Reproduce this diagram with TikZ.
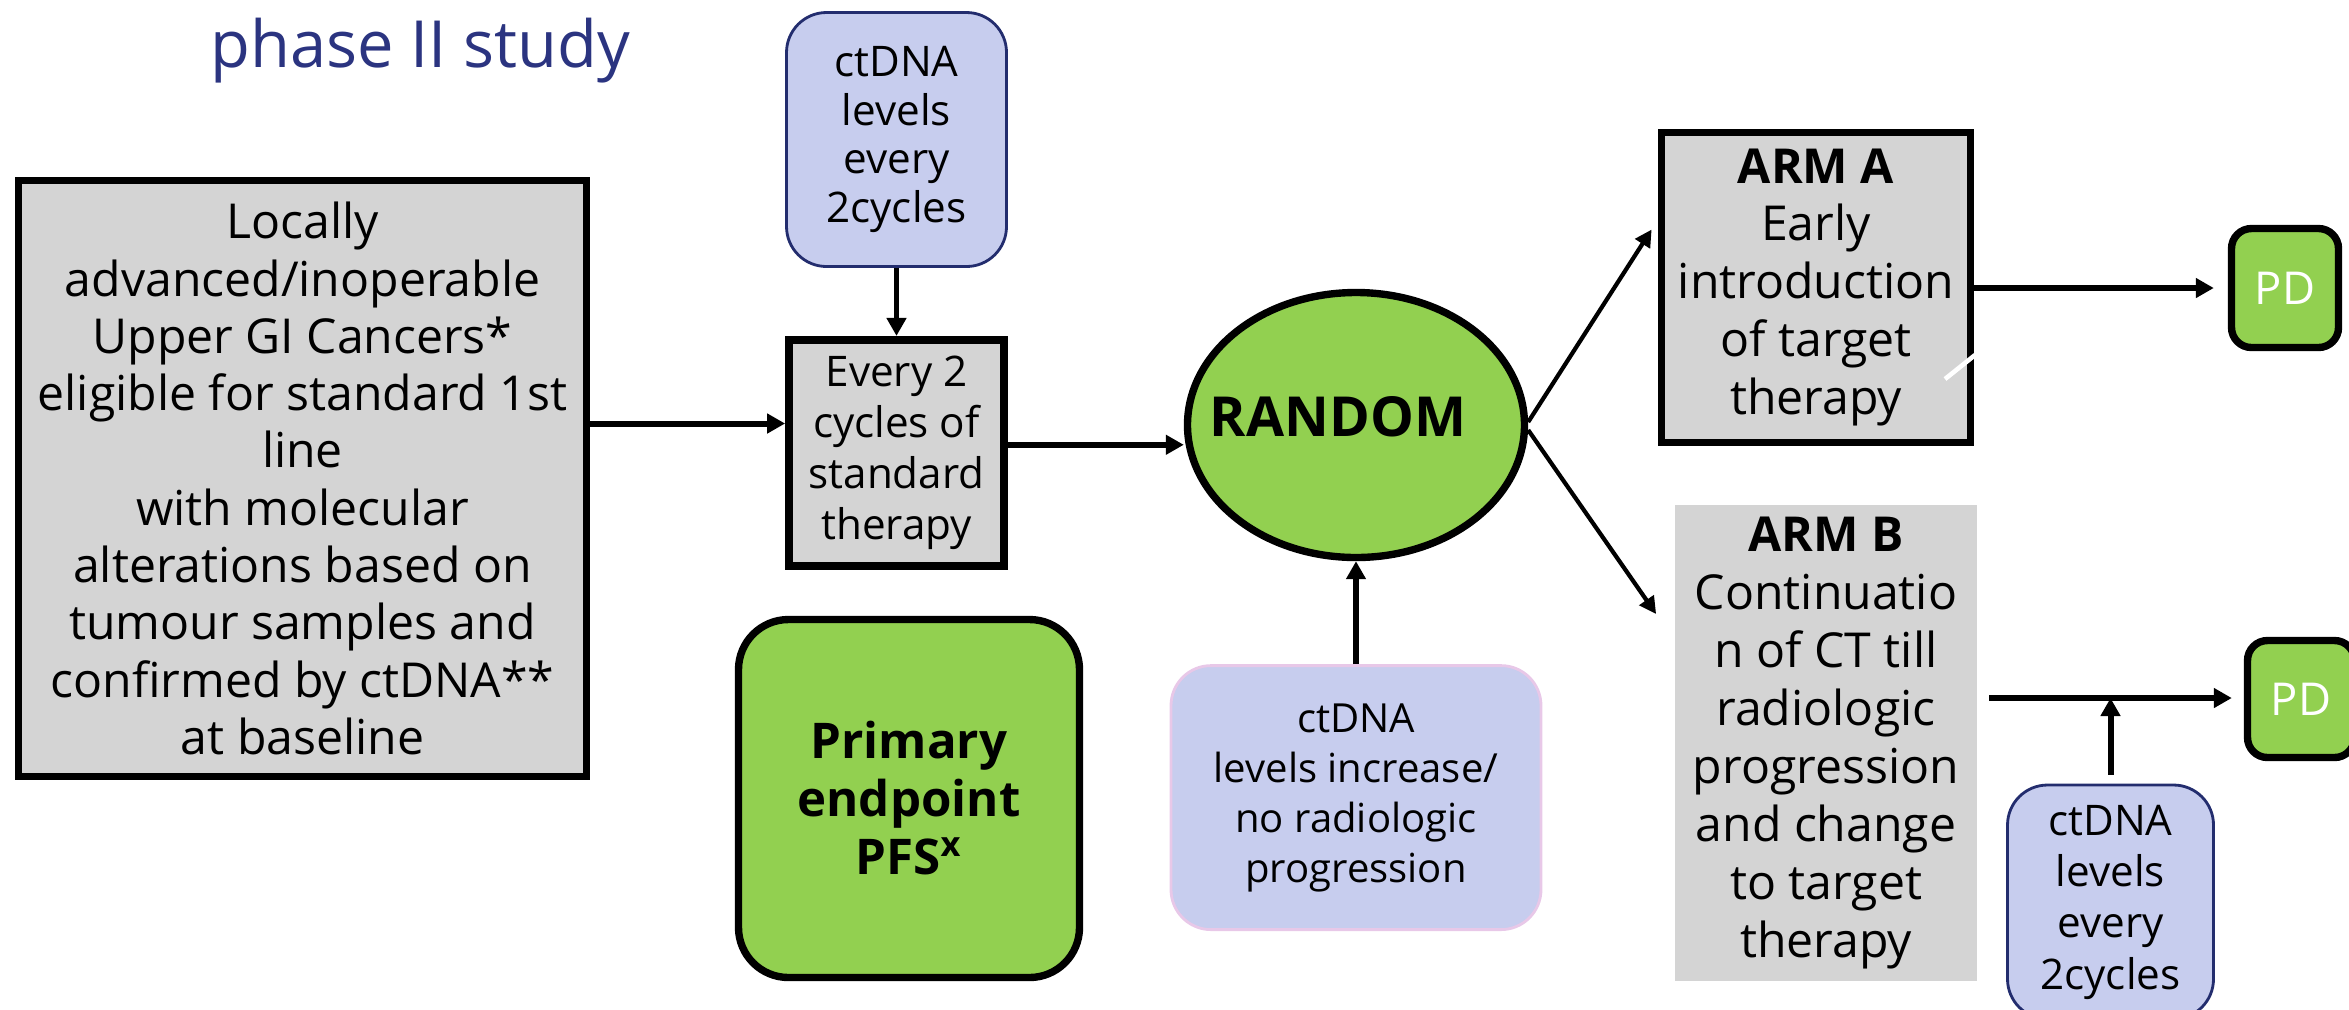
\documentclass[tikz,border=0pt]{standalone}
\usepackage{fontspec}
\setmainfont{Open Sans}
\usepackage{xcolor}
\usepackage{tikz}
\usetikzlibrary{arrows.meta, positioning, shapes.geometric}
\definecolor{boxgrey}{RGB}{212,212,212}
\definecolor{dnafill}{RGB}{199,205,238}
\definecolor{dnaline}{RGB}{35,45,110}
\definecolor{dnapink}{RGB}{232,200,232}
\definecolor{trialgreen}{RGB}{146,208,80}
\definecolor{titleblue}{RGB}{43,52,128}

\tikzset{
  greybox/.style={draw, line width=2.2pt, fill=boxgrey, inner sep=0pt, align=center},
  dnabox/.style={draw=dnaline, line width=0.8pt, fill=dnafill, rounded corners=0.4cm, inner sep=0pt, align=center},
  greenbox/.style={draw, line width=2.1pt, fill=trialgreen, inner sep=0pt, align=center},
  arr/.style={-{Triangle[length=1.8mm, width=1.9mm]}, line width=1.7pt},
  thinarr/.style={-{Triangle[length=1.7mm, width=1.7mm]}, line width=1.2pt}
}

\begin{document}
\begin{tikzpicture}
            \useasboundingbox (0,0) rectangle (23.49,-10.09);

            \node (title) [anchor=base west, text=titleblue, font=\fontsize{18.5}{22}\selectfont] at (1.98,-0.67) {phase II study};

            \node (inclusion) [greybox, minimum width=5.68cm, minimum height=5.96cm, font=\fontsize{13.7}{16.3}\selectfont] at (3.025,-4.785) {Locally\\ advanced/inoperable\\ Upper GI Cancers*\\ eligible for standard 1st\\ line\\ with molecular\\ alterations based on\\ tumour samples and\\ confirmed by ctDNA**\\ at baseline};

            \node (topdna) [dnabox, minimum width=2.2cm, minimum height=2.54cm, font=\fontsize{12}{13.9}\selectfont] at (8.965,-1.395) {ctDNA\\ levels\\ every\\ 2cycles};
            \node (every2) [greybox, minimum width=2.15cm, minimum height=2.26cm, font=\fontsize{12}{14.5}\selectfont, below=0.68cm of topdna] {Every 2\\ cycles of\\ standard\\ therapy};

            \node (random) [ellipse, greenbox, minimum width=3.37cm, minimum height=2.65cm] at (13.56,-4.25) {};
            \node (randomlabel) [font=\bfseries\fontsize{15.7}{18}\selectfont] at ([xshift=-0.18cm, yshift=0.08cm]random.center) {RANDOM};

            \node (primary) [greenbox, rounded corners=0.5cm, minimum width=3.41cm, minimum height=3.58cm, font=\bfseries\fontsize{14}{16.5}\selectfont] at (9.09,-7.985) {Primary\\ endpoint\\ PFS\textsuperscript{x}};
            \node (dnamid) [dnabox, draw=dnapink, minimum width=3.7cm, minimum height=2.64cm, font=\fontsize{11.4}{14.2}\selectfont, below=1.03cm of random] {ctDNA\\ levels increase/\\ no radiologic\\ progression};

            \node (armA) [greybox, minimum width=3.09cm, minimum height=3.1cm, font=\fontsize{13.7}{16.5}\selectfont] at (18.16,-2.875) {\textbf{ARM A}\\ Early\\ introduction\\ of target\\ therapy};
            \node (armB) [greybox, draw=none, minimum width=3.02cm, minimum height=4.76cm, font=\fontsize{13.7}{16.5}\selectfont] at (18.26,-7.43) {\textbf{ARM B}\\ Continuatio\\ n of CT till\\ radiologic\\ progression\\ and change\\ to target\\ therapy};

            \node (pdA) [greenbox, rounded corners=0.2cm, minimum width=1.07cm, minimum height=1.19cm, text=white, font=\fontsize{12.9}{15}\selectfont] at (22.85,-2.88) {PD};
            \node (pdB) [greenbox, rounded corners=0.2cm, minimum width=1.07cm, minimum height=1.17cm, text=white, font=\fontsize{12.9}{15}\selectfont] at (23.01,-6.99) {PD};
            \node (dnaB) [dnabox, minimum width=2.06cm, minimum height=2.34cm, font=\fontsize{12}{14.6}\selectfont] at (21.105,-9.02) {ctDNA\\ levels\\ every\\ 2cycles};

            % connectors
            \draw[arr] ([yshift=0.55cm]inclusion.east) -- ([yshift=0.55cm]inclusion.east -| every2.west);
            \draw[arr] (topdna) -- (every2);
            \draw[arr] ([yshift=0.08cm]every2.east) -- ([yshift=0.08cm]every2.east -| random.west);
            \draw[arr] (dnamid) -- (random);
            \draw[thinarr] ([yshift=0.03cm]random.east) -- ([xshift=-0.06cm, yshift=0.58cm]armA.west);
            \draw[thinarr] ([yshift=-0.05cm]random.east) -- ([xshift=-0.15cm, yshift=1.29cm]armB.west);
            \draw[arr, shorten >=0.14cm] (armA.east |- pdA.west) -- (pdA.west);

                \coordinate (bstart) at (19.89,-6.98);
                \draw[arr, shorten >=0.12cm] (bstart) -- (bstart -| pdB.west);
                \draw[arr] ([yshift=0.09cm]dnaB.north) -- (dnaB.north |- bstart);

            \draw[white, line width=1.3pt] (19.45,-3.79) -- (19.75,-3.55);
            \end{tikzpicture}
\end{document}
